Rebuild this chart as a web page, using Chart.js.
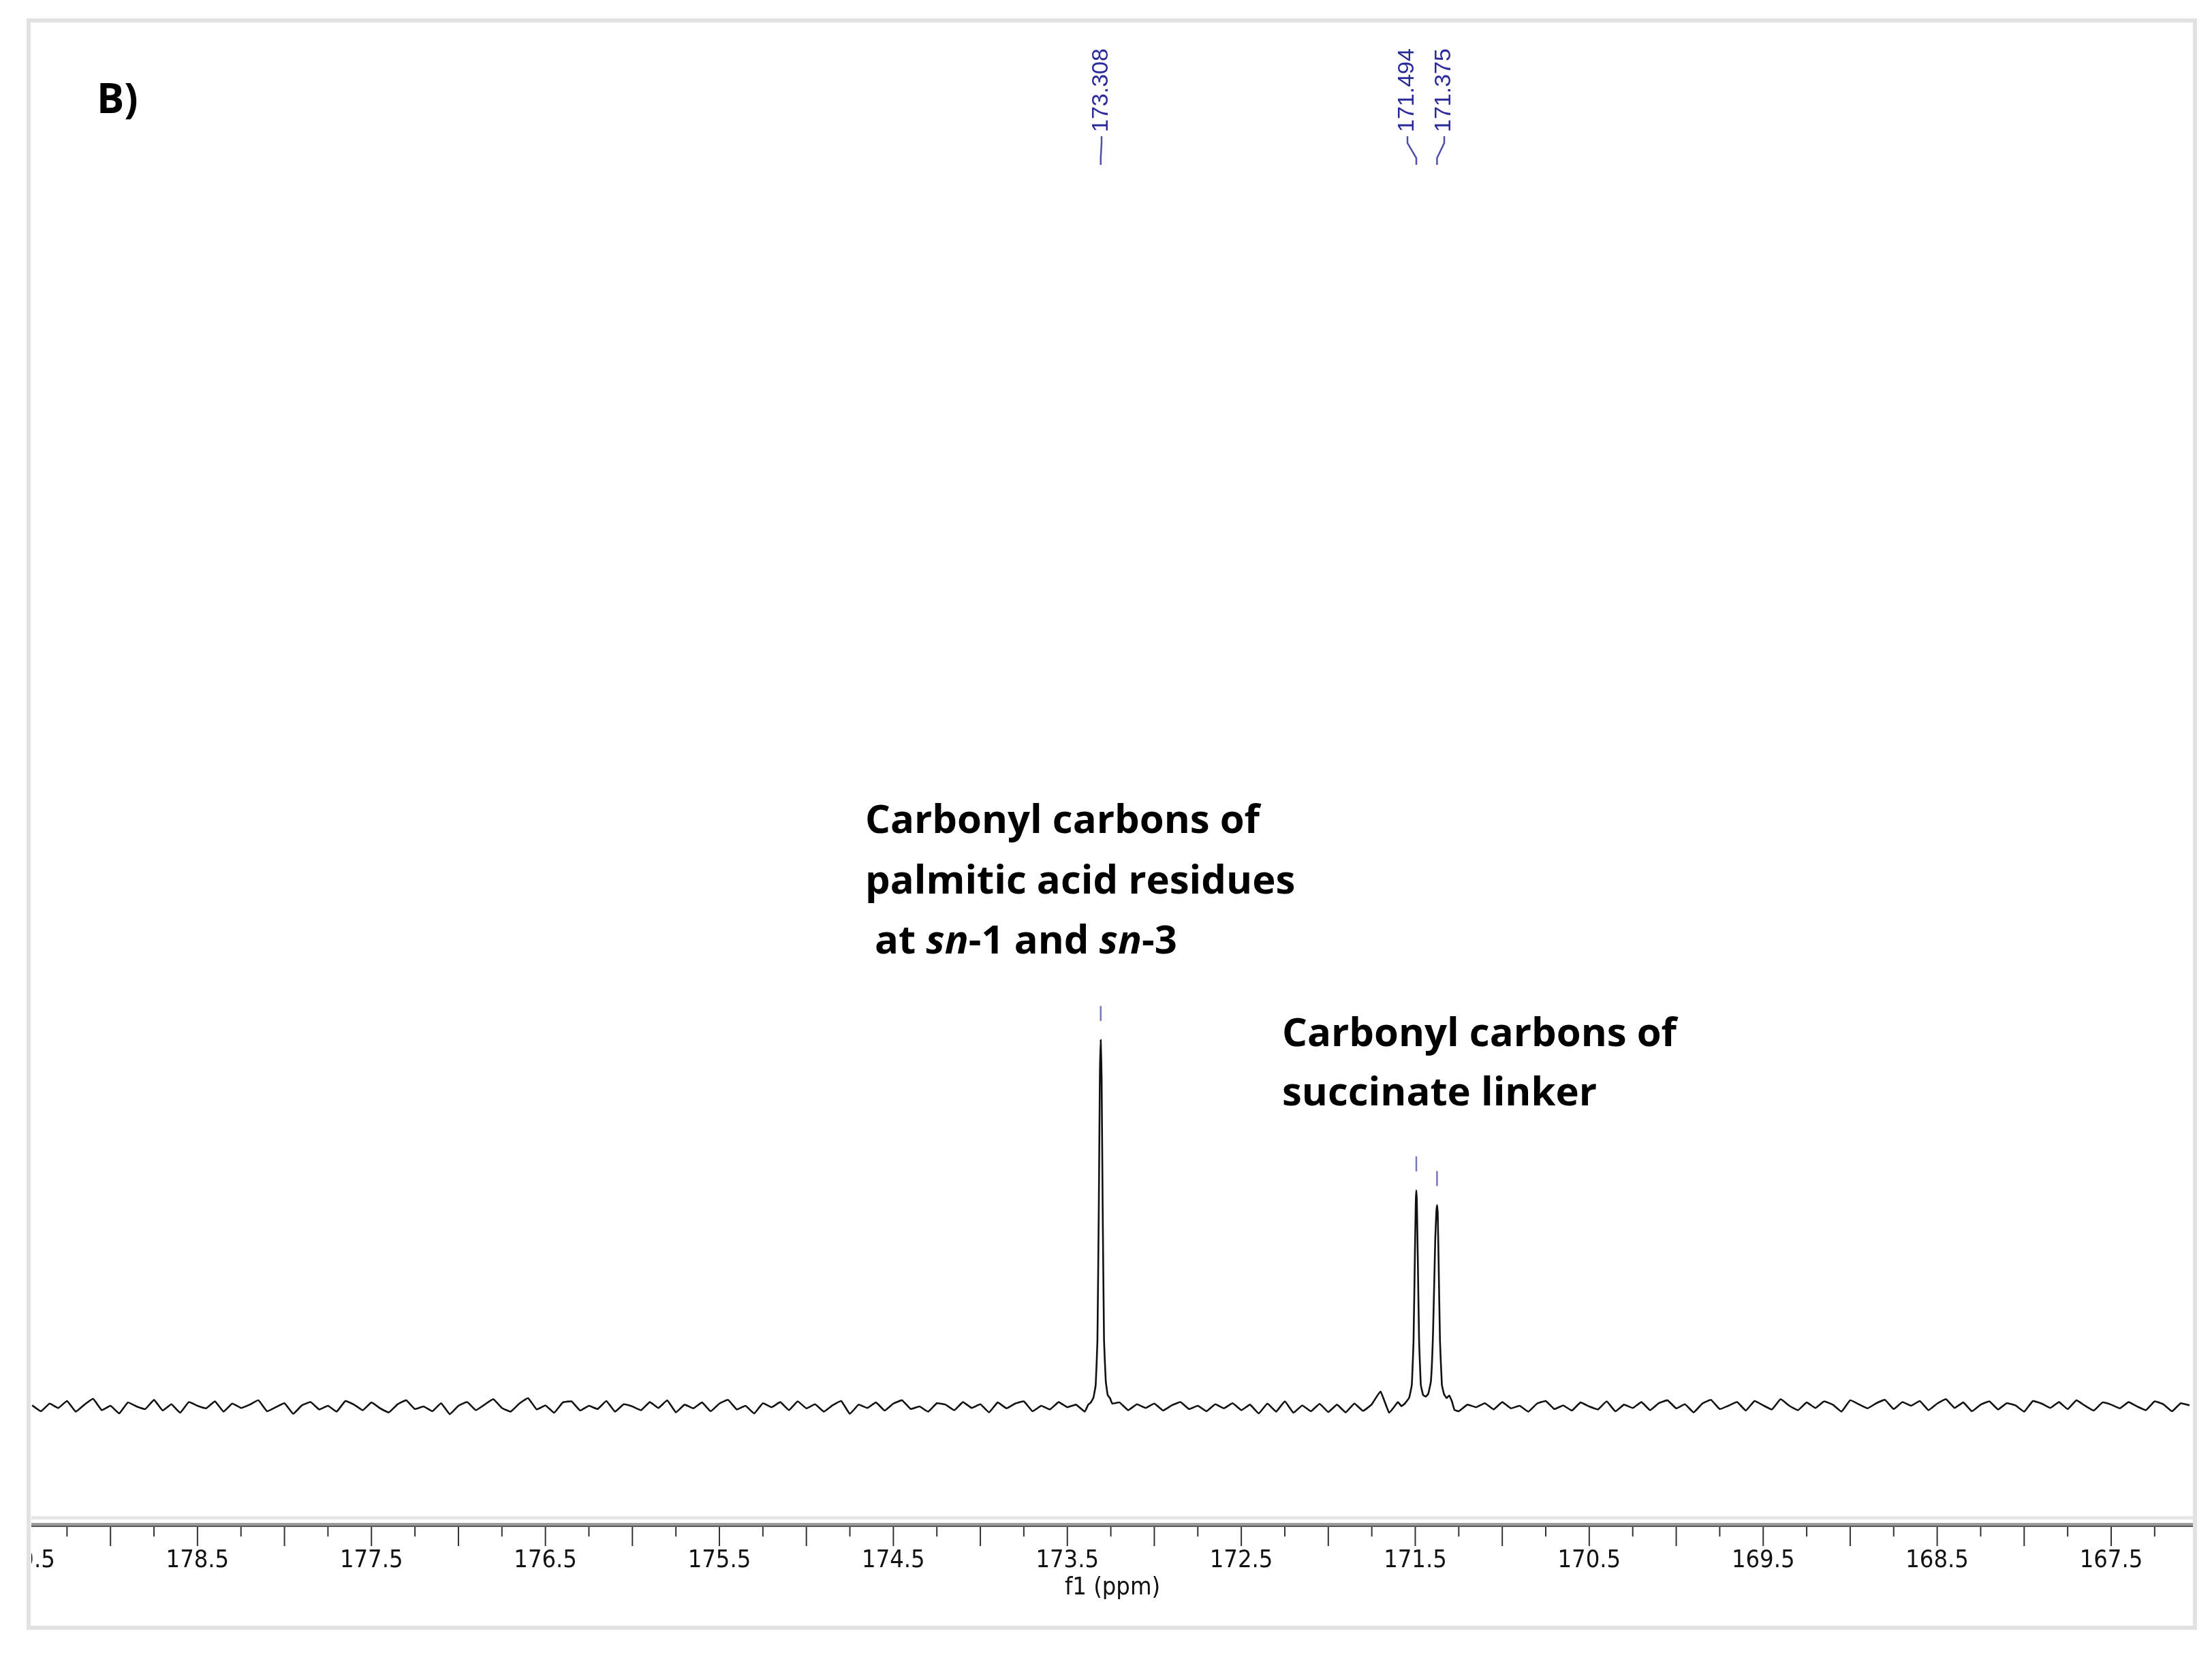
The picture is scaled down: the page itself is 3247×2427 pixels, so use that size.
<!DOCTYPE html>
<html>
<head>
<meta charset="utf-8">
<script src="https://cdn.jsdelivr.net/npm/chart.js@4"></script>
<style>
  html, body { margin: 0; padding: 0; background: #fff; }
  #wrap { position: relative; width: 3247px; height: 2427px; }
  canvas { position: absolute; left: 0; top: 0; }
</style>
</head>
<body>
<div id="wrap"><canvas id="nmr" width="3247" height="2427"></canvas></div>
<script>
// spectrum window (ppm, reversed axis)
const ppmLeft = 179.455;
const ppmRight = 167.03;

// baseline noise, read every 0.05 ppm from 179.45 downwards
const noiseStart = 179.45;
const noiseStep = 0.05;
const noise = [
  0.4, -1.2, 0.9, -0.3, 1.6, -1.3, 0.6, 2.2, -0.9, 0.3, -1.8, 1.2, 0.1, -0.6, 1.9, -1.0,
  0.7, -1.6, 1.3, 0.3, -0.4, 1.5, -1.3, 0.9, -0.3, 0.6, 1.8, -1.2, -0.1, 1.0, -1.9, 0.4,
  1.3, -0.7, 0.3, -1.3, 1.6, 0.6, -0.9, 1.2, -0.4, -1.5, 0.7, 1.8, -0.6, 0.1, -1.2, 1.0,
  -2.0, 0.3, 1.3, -0.9, 0.6, 2.1, -0.3, -1.3, 0.9, 2.4, -0.7, 0.4, -1.6, 1.2, 1.5, -1.0,
  0.3, -0.6, 1.6, -1.3, 0.7, 0.1, -0.9, 1.3, -0.3, 1.8, -1.5, 0.6, -0.4, 1.2, -1.2, 0.9,
  1.9, -0.7, 0.3, -1.8, 1.0, -0.1, 1.3, -0.9, 1.5, -0.4, 0.7, -1.3, 0.4, 1.6, -1.9, 0.6,
  -0.3, 1.2, -1.0, 0.9, 1.8, -0.6, 0.1, -1.3, 1.0, 0.6, -0.9, 1.3, -0.3, 0.7, -1.5, 1.2,
  -0.4, 0.9, 1.5, -1.2, 0.3, -0.7, 1.3, -0.1, 0.6, -1.3, 1.0, -0.6, 0.4, 1.2, -0.9, 0.7,
  -0.3, 0.9, -1.0, 0.4, 1.3, -0.6, 0.3, -1.2, 0.7, -0.4, 1.0, -0.9, 0.6, -1.8, 0.9, -1.3,
  1.5, -1.6, 0.4, -1.2, 0.8, -1.4, 0.6, -1.5, 0.9, -1.1, 0.7, 4.2, -1.6, 1.3, -0.9, 1.8,
  1.3, -0.3, 0.9, 0.4, -1.2, 0.6, -0.1, 1.0, -0.7, 1.3, -0.4, 0.3, -1.3, 0.9, 1.6, -0.6,
  0.4, -1.0, 1.2, 0.1, -0.7, 1.5, -1.2, 0.6, -0.3, 1.3, -0.9, 1.0, 1.8, -0.4, 0.7, -1.5,
  0.9, 1.9, -0.6, 0.3, 1.3, -1.0, 1.6, 0.4, -0.7, 2.1, 0.3, -0.9, 1.2, -0.3, 1.5, 0.6,
  -1.3, 1.8, 0.7, -0.4, 1.0, 1.9, -0.6, 1.3, 0.3, 1.6, -0.9, 0.9, 2.1, -0.3, 1.2, -1.2,
  0.6, 1.5, -0.7, 1.0, 0.4, -1.3, 1.6, 0.9, -0.3, 1.3, -0.6, 1.8, 0.3, -1.0, 1.2, 0.6,
  -0.4, 1.3, 0.1, -0.9, 1.5, 0.7, -1.2, 1.0, 0.4
];

// palmitic carbonyl peak
const peakAPpm = [173.38, 173.365, 173.35, 173.337, 173.327, 173.319, 173.313, 173.308, 173.303, 173.297, 173.289, 173.279, 173.268, 173.255, 173.242];
const peakAInt = [0.6, 1.2, 2.5, 6, 18, 55, 90, 100, 90, 55, 18, 7, 3.2, 2.4, 0.9];

// succinate carbonyl doublet
const peakBPpm = [171.58, 171.56, 171.535, 171.52, 171.51, 171.502, 171.497, 171.494, 171.491, 171.486, 171.478, 171.468, 171.455, 171.44, 171.425, 171.41, 171.398, 171.385, 171.379, 171.375, 171.371, 171.366, 171.358, 171.347, 171.335, 171.32, 171.305, 171.29, 171.275];
const peakBInt = [0.2, 0.9, 2.5, 6, 18, 42, 56, 59, 56, 42, 18, 6, 3.2, 2.8, 3.6, 7, 20, 46, 53, 55, 53, 40, 18, 6, 3.5, 2.4, 3.1, 1.6, -0.8];

const tickLabels = ["179.5", "178.5", "177.5", "176.5", "175.5", "174.5", "173.5", "172.5", "171.5", "170.5", "169.5", "168.5", "167.5"];
const peakLabels = ["173.308", "171.494", "171.375"];
const peakTops = [100, 59, 55];

function buildSpectrum() {
  const pts = [];
  noise.forEach((v, i) => {
    const x = +(noiseStart - i * noiseStep).toFixed(3);
    if (x < 173.39 && x > 173.23) return;
    if (x < 171.59 && x > 171.27) return;
    pts.push({ x, y: v });
  });
  peakAPpm.forEach((x, i) => pts.push({ x, y: peakAInt[i] }));
  peakBPpm.forEach((x, i) => pts.push({ x, y: peakBInt[i] }));
  pts.sort((a, b) => b.x - a.x);
  return pts;
}

const FONT_TXT = "'Open Sans', 'Noto Sans', sans-serif";
const FONT_AX = "'DejaVu Sans Condensed', 'DejaVu Sans', sans-serif";

const decor = {
  id: "decor",
  beforeDraw(chart) {
    const c = chart.ctx;
    c.save();
    c.fillStyle = "#fff";
    c.fillRect(0, 0, chart.width, chart.height);
    // outer frame
    c.strokeStyle = "#e2e2e2";
    c.lineWidth = 6;
    c.strokeRect(42, 30, 3180, 2360);
    c.restore();
  },
  afterDraw(chart) {
    const c = chart.ctx;
    const xs = chart.scales.x, ys = chart.scales.y;
    const L = chart.chartArea.left, R = chart.chartArea.right;
    c.save();
    // axis band
    c.fillStyle = "#e6e6e6";
    c.fillRect(L, 2226, R - L, 5);
    c.fillStyle = "#9a9a9a";
    c.fillRect(L, 2236, R - L, 4);
    c.fillStyle = "#5a5a5a";
    c.fillRect(L, 2240, R - L, 2);
    // ticks every 0.25 ppm
    c.strokeStyle = "#333";
    c.lineWidth = 2;
    for (let k = 0; k <= 60; k++) {
      const v = 179.5 - k * 0.25;
      const px = xs.getPixelForValue(v);
      if (px < L || px > R) continue;
      const major = k % 2 === 0;
      c.beginPath();
      c.moveTo(px, 2242);
      c.lineTo(px, major ? 2270 : 2256);
      c.stroke();
    }
    c.save();
    c.beginPath();
    c.rect(L, 2250, R - L, 100);
    c.clip();
    c.fillStyle = "#111";
    c.font = "36px " + FONT_AX;
    c.textAlign = "center";
    c.textBaseline = "middle";
    tickLabels.forEach(t => c.fillText(t, xs.getPixelForValue(parseFloat(t)), 2292));
    c.restore();
    c.fillStyle = "#111";
    c.font = "36px " + FONT_AX;
    c.textAlign = "center";
    c.textBaseline = "middle";
    c.fillText("f1 (ppm)", 1633, 2332);

    // peak picking labels
    const navy = "#2a2a9a";
    c.font = "34px 'Liberation Sans', Arial, sans-serif";
    c.fillStyle = navy;
    c.strokeStyle = "#5050a8";
    c.lineWidth = 2.5;
    const labelX = [1617, 2066, 2120];
    peakLabels.forEach((lab, i) => {
      const v = parseFloat(lab);
      const px = xs.getPixelForValue(v);
      const lx = labelX[i];
      c.save();
      c.translate(lx, 194);
      c.rotate(-Math.PI / 2);
      c.textAlign = "left";
      c.textBaseline = "middle";
      c.fillText(lab, 0, 0);
      c.restore();
      c.beginPath();
      c.moveTo(lx, 200);
      c.lineTo(lx, 210);
      c.lineTo(px, 232);
      c.lineTo(px, 242);
      c.stroke();
      // small marker above peak
      const top = ys.getPixelForValue(peakTops[i]);
      c.beginPath();
      c.moveTo(px, top - 50);
      c.lineTo(px, top - 28);
      c.strokeStyle = "#7777c0";
      c.stroke();
      c.strokeStyle = "#5050a8";
    });

    // annotations
    c.fillStyle = "#000";
    c.textAlign = "left";
    c.textBaseline = "middle";
    c.font = "bold 60px " + FONT_TXT;
    c.fillText("B)", 142, 149);
    c.font = "bold 58px " + FONT_TXT;
    c.fillText("Carbonyl carbons of", 1270, 1206);
    c.fillText("palmitic acid residues", 1270, 1295);
    let x = 1284;
    const seg = [["at ", false], ["sn", true], ["-1 and ", false], ["sn", true], ["-3", false]];
    seg.forEach(([s, it]) => {
      c.font = (it ? "italic " : "") + "bold 58px " + FONT_TXT;
      c.fillText(s, x, 1383);
      x += c.measureText(s).width;
    });
    c.font = "bold 58px " + FONT_TXT;
    c.fillText("Carbonyl carbons of", 1882, 1519);
    c.fillText("succinate linker", 1882, 1606);
    c.restore();
  }
};

new Chart(document.getElementById("nmr"), {
  type: "line",
  data: {
    datasets: [{
      data: buildSpectrum(),
      borderColor: "#111",
      borderWidth: 2.6,
      pointRadius: 0,
      tension: 0.1,
      fill: false
    }]
  },
  options: {
    responsive: false,
    animation: false,
    devicePixelRatio: 1,
    layout: { padding: { left: 46, right: 28, top: 30, bottom: 195 } },
    plugins: { legend: { display: false }, tooltip: { enabled: false } },
    scales: {
      x: { type: "linear", reverse: true, min: ppmRight, max: ppmLeft, display: false },
      y: { min: -30.9, max: 378, display: false }
    }
  },
  plugins: [decor]
});
</script>
</body>
</html>
